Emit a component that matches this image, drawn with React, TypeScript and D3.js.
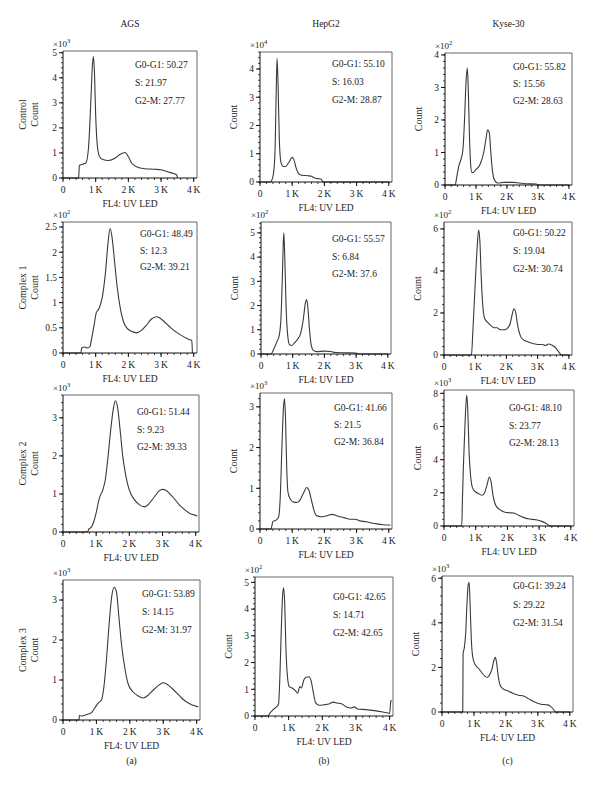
import React from "react";
import * as d3 from "d3";

// ---------- DATA ----------
const cellLines = ["AGS", "HepG2", "Kyse-30"];
const treatments = ["Control", "Complex 1", "Complex 2", "Complex 3"];
const panelTags = ["(a)", "(b)", "(c)"];
const xTickValues = [0, 1000, 2000, 3000, 4000];
const xTickLabels = ["0", "1\u2009K", "2\u2009K", "3\u2009K", "4\u2009K"];

// y-axis exponent (×10^n), max and major step per [row][col]
const yExponents = [[3, 4, 2], [2, 2, 2], [3, 3, 3], [3, 2, 3]];
const yMaxima = [[5.07, 4.6, 4.06], [2.6, 5.45, 6.33], [3.6, 3.34, 8.2], [3.5, 5.2, 6.1]];
const yTickSteps = [[1, 1, 1], [0.5, 1, 2], [1, 1, 2], [1, 1, 2]];

const g0g1 = [["50.27", "55.10", "55.82"], ["48.49", "55.57", "50.22"], ["51.44", "41.66", "48.10"], ["53.89", "42.65", "39.24"]];
const sPhase = [["21.97", "16.03", "15.56"], ["12.3", "6.84", "19.04"], ["9.23", "21.5", "23.77"], ["14.15", "14.71", "29.22"]];
const g2m = [["27.77", "28.87", "28.63"], ["39.21", "37.6", "30.74"], ["39.33", "36.84", "28.13"], ["31.97", "42.65", "31.54"]];

// histograms: [FL4 in K, count in axis units]
const agsControl = [[0, 0], [0.48, 0], [0.5, 0.5], [0.6, 0.55], [0.7, 0.6], [0.78, 1.2], [0.85, 3.0], [0.9, 4.5], [0.93, 4.85], [0.96, 4.3], [1.0, 2.5], [1.05, 1.3], [1.12, 0.85], [1.2, 0.75], [1.4, 0.7], [1.6, 0.8], [1.75, 0.95], [1.9, 1.02], [2.0, 0.85], [2.1, 0.6], [2.25, 0.45], [2.5, 0.37], [2.8, 0.35], [3.0, 0.33], [3.2, 0.25], [3.4, 0.17], [3.48, 0.12], [3.5, 0]];
const hepg2Control = [[0, 0], [0.32, 0], [0.38, 0.1], [0.43, 0.4], [0.47, 1.2], [0.5, 3.0], [0.53, 4.38], [0.56, 3.5], [0.6, 1.5], [0.65, 0.7], [0.72, 0.55], [0.8, 0.55], [0.9, 0.7], [1.0, 0.87], [1.05, 0.8], [1.12, 0.5], [1.2, 0.3], [1.3, 0.24], [1.5, 0.22], [1.6, 0.2], [1.7, 0.14], [1.8, 0.12], [1.9, 0.1], [1.96, 0], [4.0, 0]];
const kyseControl = [[0, 0], [0.33, 0], [0.38, 0.25], [0.45, 0.6], [0.52, 0.8], [0.58, 1.1], [0.63, 2.0], [0.68, 3.2], [0.72, 3.6], [0.75, 3.0], [0.79, 1.5], [0.83, 0.6], [0.87, 0.38], [0.93, 0.4], [1.0, 0.48], [1.08, 0.55], [1.16, 0.7], [1.25, 1.0], [1.32, 1.4], [1.38, 1.7], [1.43, 1.6], [1.48, 1.0], [1.53, 0.45], [1.6, 0.15], [1.7, 0.06], [1.9, 0.08], [2.2, 0.08], [2.4, 0.06], [2.6, 0.04], [2.95, 0.03], [3.0, 0], [4.0, 0]];
const agsComplex1 = [[0, 0], [0.55, 0], [0.57, 0.1], [0.65, 0.12], [0.75, 0.1], [0.82, 0.12], [0.88, 0.3], [0.95, 0.55], [1.02, 0.8], [1.1, 0.88], [1.2, 1.1], [1.3, 1.6], [1.38, 2.2], [1.44, 2.47], [1.5, 2.3], [1.58, 1.8], [1.66, 1.3], [1.75, 0.9], [1.85, 0.62], [1.95, 0.5], [2.1, 0.43], [2.25, 0.4], [2.4, 0.45], [2.55, 0.55], [2.7, 0.67], [2.85, 0.72], [2.95, 0.7], [3.1, 0.62], [3.3, 0.5], [3.5, 0.4], [3.7, 0.32], [3.85, 0.27], [3.94, 0.25], [3.96, 0]];
const hepg2Complex1 = [[0, 0], [0.32, 0], [0.4, 0.2], [0.5, 0.5], [0.58, 0.8], [0.63, 1.5], [0.67, 3.0], [0.7, 4.5], [0.72, 5.0], [0.75, 4.0], [0.79, 2.0], [0.84, 0.8], [0.9, 0.38], [0.97, 0.35], [1.05, 0.45], [1.15, 0.6], [1.25, 0.85], [1.33, 1.4], [1.4, 2.1], [1.44, 2.25], [1.48, 1.9], [1.53, 1.0], [1.58, 0.4], [1.65, 0.15], [1.75, 0.1], [2.0, 0.12], [2.2, 0.1], [2.35, 0.06], [2.6, 0.05], [3.0, 0.04], [3.1, 0], [4.0, 0]];
const kyseComplex1 = [[0, 0], [0.88, 0], [0.92, 1.0], [0.97, 2.5], [1.02, 4.0], [1.07, 5.3], [1.11, 5.95], [1.15, 5.4], [1.19, 3.8], [1.24, 2.4], [1.3, 1.75], [1.4, 1.55], [1.5, 1.4], [1.6, 1.3], [1.7, 1.3], [1.8, 1.2], [1.95, 1.2], [2.05, 1.3], [2.12, 1.5], [2.18, 1.9], [2.24, 2.2], [2.3, 2.0], [2.36, 1.4], [2.45, 0.9], [2.55, 0.72], [2.7, 0.62], [2.85, 0.55], [3.0, 0.5], [3.15, 0.5], [3.25, 0.45], [3.35, 0.52], [3.45, 0.48], [3.55, 0.38], [3.65, 0.2], [3.74, 0.02], [3.75, 0], [4.0, 0]];
const agsComplex2 = [[0, 0], [0.74, 0], [0.78, 0.08], [0.85, 0.12], [0.92, 0.25], [1.0, 0.5], [1.07, 0.8], [1.12, 0.95], [1.2, 1.1], [1.28, 1.4], [1.36, 2.0], [1.44, 2.7], [1.52, 3.25], [1.58, 3.45], [1.64, 3.3], [1.72, 2.7], [1.8, 2.0], [1.9, 1.45], [2.0, 1.1], [2.15, 0.85], [2.3, 0.72], [2.45, 0.66], [2.6, 0.75], [2.75, 0.92], [2.9, 1.08], [3.0, 1.12], [3.1, 1.1], [3.2, 1.02], [3.35, 0.88], [3.5, 0.72], [3.65, 0.6], [3.8, 0.5], [3.95, 0.45], [4.05, 0.42]];
const hepg2Complex2 = [[0, 0], [0.34, 0], [0.4, 0.18], [0.5, 0.22], [0.58, 0.3], [0.63, 0.8], [0.68, 2.0], [0.73, 3.0], [0.76, 3.2], [0.79, 2.8], [0.83, 1.5], [0.87, 0.9], [0.93, 0.75], [1.05, 0.66], [1.15, 0.65], [1.25, 0.72], [1.35, 0.88], [1.45, 1.02], [1.52, 0.95], [1.6, 0.7], [1.68, 0.45], [1.75, 0.33], [1.9, 0.3], [2.05, 0.32], [2.25, 0.36], [2.4, 0.32], [2.6, 0.28], [2.8, 0.24], [2.95, 0.24], [3.1, 0.2], [3.3, 0.18], [3.5, 0.14], [3.7, 0.12], [3.9, 0.1], [4.05, 0.1]];
const kyseComplex2 = [[0, 0], [0.56, 0], [0.58, 1.5], [0.61, 3.5], [0.65, 5.5], [0.69, 7.3], [0.72, 7.9], [0.75, 7.0], [0.79, 4.5], [0.84, 3.0], [0.9, 2.3], [1.0, 2.05], [1.1, 1.95], [1.2, 1.85], [1.28, 2.0], [1.36, 2.5], [1.43, 2.95], [1.48, 2.7], [1.55, 1.8], [1.63, 1.25], [1.75, 1.0], [1.9, 0.85], [2.05, 0.8], [2.2, 0.78], [2.35, 0.65], [2.5, 0.52], [2.7, 0.42], [2.9, 0.38], [3.05, 0.3], [3.2, 0.18], [3.3, 0.05], [3.35, 0], [4.0, 0]];
const agsComplex3 = [[0, 0], [0.48, 0], [0.49, 0.12], [0.55, 0.1], [0.65, 0.12], [0.75, 0.15], [0.85, 0.18], [0.95, 0.3], [1.05, 0.42], [1.15, 0.5], [1.22, 0.8], [1.3, 1.5], [1.38, 2.4], [1.46, 3.1], [1.53, 3.32], [1.6, 3.2], [1.67, 2.6], [1.75, 1.9], [1.85, 1.3], [1.95, 0.9], [2.1, 0.7], [2.25, 0.6], [2.4, 0.55], [2.55, 0.62], [2.7, 0.75], [2.85, 0.86], [3.0, 0.93], [3.1, 0.9], [3.25, 0.8], [3.4, 0.68], [3.55, 0.55], [3.7, 0.45], [3.85, 0.38], [4.0, 0.34], [4.05, 0.33]];
const hepg2Complex3 = [[0, 0], [0.38, 0], [0.45, 0.12], [0.55, 0.25], [0.62, 0.32], [0.7, 0.45], [0.74, 1.5], [0.78, 3.2], [0.82, 4.5], [0.85, 4.8], [0.88, 4.3], [0.92, 2.5], [0.97, 1.4], [1.02, 1.1], [1.1, 1.05], [1.2, 0.95], [1.27, 0.85], [1.33, 1.1], [1.38, 1.05], [1.45, 1.35], [1.52, 1.45], [1.6, 1.47], [1.67, 1.3], [1.73, 0.9], [1.8, 0.5], [1.9, 0.4], [2.05, 0.42], [2.2, 0.45], [2.33, 0.52], [2.45, 0.48], [2.55, 0.47], [2.7, 0.35], [2.85, 0.3], [2.95, 0.34], [3.05, 0.26], [3.3, 0.24], [3.55, 0.2], [3.8, 0.15], [4.0, 0.1], [4.03, 0.5], [4.05, 0.6]];
const kyseComplex3 = [[0, 0], [0.65, 0], [0.66, 2.6], [0.7, 2.9], [0.74, 3.5], [0.78, 4.8], [0.82, 5.7], [0.85, 5.82], [0.88, 4.8], [0.92, 3.2], [0.97, 2.4], [1.05, 2.1], [1.15, 1.95], [1.25, 1.75], [1.35, 1.6], [1.42, 1.55], [1.5, 1.7], [1.56, 1.9], [1.62, 2.3], [1.67, 2.45], [1.71, 2.2], [1.76, 1.6], [1.82, 1.2], [1.9, 1.05], [2.05, 0.95], [2.2, 0.85], [2.4, 0.75], [2.55, 0.72], [2.7, 0.6], [2.9, 0.45], [3.1, 0.35], [3.3, 0.32], [3.4, 0.25], [3.5, 0.1], [3.55, 0], [4.0, 0]];

const histograms = [
  [agsControl, hepg2Control, kyseControl],
  [agsComplex1, hepg2Complex1, kyseComplex1],
  [agsComplex2, hepg2Complex2, kyseComplex2],
  [agsComplex3, hepg2Complex3, kyseComplex3],
];

// ---------- LAYOUT ----------
// plot boxes [left, top, right, bottom]
const boxes = [
  [[63, 51, 197, 178], [260, 52, 392, 182], [445, 53, 572, 185]],
  [[63, 222, 197, 353], [261, 222, 391, 354], [444, 222, 572, 355]],
  [[63, 395, 199, 532], [260, 393, 392, 529], [444, 390, 574, 526]],
  [[63, 580, 200, 720], [255, 577, 393, 716], [442, 576, 573, 712]],
];
// annotation [dx, first baseline dy, line spacing]
const notes = [
  [[72, 17, 18], [72, 15, 18], [68, 17, 17]],
  [[77, 15, 16.5], [71, 20, 17.5], [69, 14, 18]],
  [[74, 20, 17.5], [74, 18, 17], [65, 21, 17.5]],
  [[79, 17, 18], [78, 23, 18], [71, 13, 18.5]],
];
const X_MAX = 4100;
const FONT = "'Liberation Serif', 'Times New Roman', serif";

function Panel({ r, c }: { r: number; c: number }) {
  const [L, T, R, B] = boxes[r][c];
  const x = d3.scaleLinear().domain([0, X_MAX]).range([L, R]);
  const y = d3.scaleLinear().domain([0, yMaxima[r][c]]).range([B, T]);
  const step = yTickSteps[r][c];
  const yMajor = d3.range(0, yMaxima[r][c] + 1e-9, step);
  const yMinor = d3.range(0, yMaxima[r][c] + 1e-9, step / 5);
  const xMinor = d3.range(0, X_MAX, 200);
  const line = d3
    .line<number[]>()
    .x((d) => x(d[0] * 1000))
    .y((d) => y(d[1]))
    .curve(d3.curveMonotoneX);
  const [ndx, nb0, nsp] = notes[r][c];
  const yLabelX = c === 0 ? L - 25 : L - 23;
  const cy = (T + B) / 2;
  const fmt = (v: number) => (Number.isInteger(v) ? String(v) : String(v));
  return (
    <g fontFamily={FONT} fill="#222">
      {/* frame */}
      <path d={`M${L},${T}H${R}V${B}`} fill="none" stroke="#666" strokeWidth={1} />
      {/* curve */}
      <path d={line(histograms[r][c]) || ""} fill="none" stroke="#3a3a3a" strokeWidth={1.1} />
      {/* axes */}
      <line x1={L} x2={L} y1={T} y2={B} stroke="#111" strokeWidth={1} />
      <line x1={L} x2={R} y1={B} y2={B} stroke="#111" strokeWidth={1} />
      {yMinor.map((v, i) => (
        <line key={"ym" + i} x1={L - 2} x2={L} y1={y(v)} y2={y(v)} stroke="#111" strokeWidth={0.8} />
      ))}
      {yMajor.map((v, i) => (
        <g key={"yM" + i}>
          <line x1={L - 4} x2={L} y1={y(v)} y2={y(v)} stroke="#111" strokeWidth={1} />
          <text x={L - 6} y={y(v) + 3.3} fontSize={9.5} textAnchor="end">{fmt(v)}</text>
        </g>
      ))}
      {xMinor.map((v, i) => (
        <line key={"xm" + i} x1={x(v)} x2={x(v)} y1={B} y2={B + 2} stroke="#111" strokeWidth={0.8} />
      ))}
      {xTickValues.map((v, i) => (
        <g key={"xM" + i}>
          <line x1={x(v)} x2={x(v)} y1={B} y2={B + 4} stroke="#111" strokeWidth={1} />
          <text x={x(v)} y={B + 15} fontSize={9.5} textAnchor="middle">{xTickLabels[i]}</text>
        </g>
      ))}
      <text x={(L + R) / 2} y={B + 29} fontSize={9.5} textAnchor="middle">FL4: UV LED</text>
      {/* exponent */}
      <text x={L - 10} y={T - 4} fontSize={9}>
        ×10<tspan dy={-4} fontSize={6.5}>{yExponents[r][c]}</tspan>
      </text>
      {/* y label */}
      {c === 0 && (
        <text transform={`translate(${L - 37},${cy}) rotate(-90)`} fontSize={10} textAnchor="middle">
          {treatments[r]}
        </text>
      )}
      <text transform={`translate(${yLabelX},${cy}) rotate(-90)`} fontSize={10} textAnchor="middle">
        Count
      </text>
      {/* annotations */}
      <text x={L + ndx} y={T + nb0} fontSize={9.5}>G0-G1: {g0g1[r][c]}</text>
      <text x={L + ndx} y={T + nb0 + nsp} fontSize={9.5}>S: {sPhase[r][c]}</text>
      <text x={L + ndx} y={T + nb0 + 2 * nsp} fontSize={9.5}>G2-M: {g2m[r][c]}</text>
    </g>
  );
}

export default function App() {
  return (
    <svg width={600} height={787} style={{ position: "absolute", left: 0, top: 0, background: "#fff" }}>
      <rect width={600} height={787} fill="#fff" />
      {cellLines.map((name, c) => {
        const [L, , R] = boxes[0][c];
        return (
          <text key={name} x={(L + R) / 2} y={27} fontSize={9.5} textAnchor="middle" fontFamily={FONT} fill="#222">
            {name}
          </text>
        );
      })}
      {treatments.map((_, r) => cellLines.map((__, c) => <Panel key={r + "-" + c} r={r} c={c} />))}
      {panelTags.map((t, c) => {
        const [L, , R] = boxes[3][c];
        return (
          <text key={t} x={(L + R) / 2} y={764} fontSize={9.5} textAnchor="middle" fontFamily={FONT} fill="#222">
            {t}
          </text>
        );
      })}
    </svg>
  );
}
